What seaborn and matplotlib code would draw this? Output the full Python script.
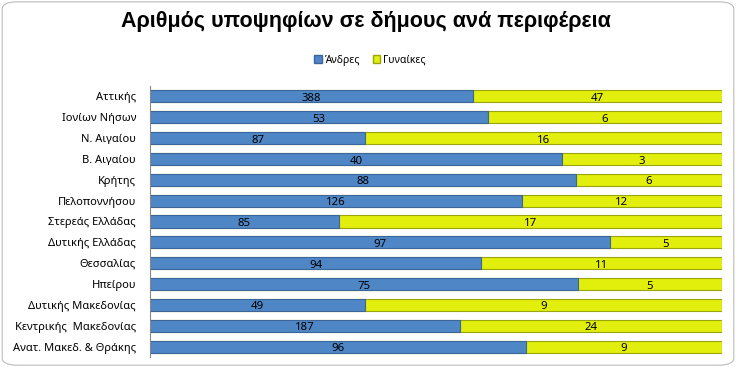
import matplotlib
matplotlib.use("Agg")
import matplotlib.pyplot as plt
import seaborn as sns
import pandas as pd
from matplotlib.patches import Patch, FancyBboxPatch

# regions, top to bottom
regions = ["Αττικής", "Ιονίων Νήσων", "Ν. Αιγαίου", "Β. Αιγαίου", "Κρήτης",
           "Πελοποννήσου", "Στερεάς Ελλάδας", "Δυτικής Ελλάδας", "Θεσσαλίας",
           "Ηπείρου", "Δυτικής Μακεδονίας", "Κεντρικής  Μακεδονίας",
           "Ανατ. Μακεδ. & Θράκης"]
# numbers printed on the bars
men_labels = [388, 53, 87, 40, 88, 126, 85, 97, 94, 75, 49, 187, 96]
women_labels = [47, 6, 16, 3, 6, 12, 17, 5, 11, 5, 9, 24, 9]
# bar length of the blue segment (% of full bar)
men_share = [56.5, 59.1, 37.6, 72.0, 74.4, 65.0, 33.0, 80.4, 57.9, 74.8, 37.6, 54.2, 65.7]

df = pd.DataFrame({"region": regions, "men": men_share})
df["total"] = 100.0

sns.set_style("white")
plt.rcParams['font.family'] = ['Noto Sans', 'DejaVu Sans']
plt.rcParams['text.color'] = 'black'
plt.rcParams['ytick.color'] = 'black'

fig = plt.figure(figsize=(7.36, 3.67), dpi=100)
ax = fig.add_axes([150 / 736, 1 - 357 / 367, 572 / 736, 271 / 367])

blue = "#4F86C6"
yellow = "#E2EE0C"

sns.barplot(data=df, x="total", y="region", color=yellow, width=0.58,
            edgecolor="#9AA50A", linewidth=0.8, saturation=1, ax=ax)
sns.barplot(data=df, x="men", y="region", color=blue, width=0.58,
            edgecolor="#3A6699", linewidth=0.8, saturation=1, ax=ax)

for i, (m, w) in enumerate(zip(men_labels, women_labels)):
    s = men_share[i]
    ax.text(s / 2, i + 0.1, str(m), ha="center", va="center", fontsize=8.2, color="black")
    ax.text(s + (100 - s) / 2, i + 0.1, str(w), ha="center", va="center", fontsize=8.2, color="black")

ax.set_xlim(0, 100)
ax.set_ylim(12.5, -0.5)
ax.set_xlabel("")
ax.set_ylabel("")
ax.set_xticks([])
ax.tick_params(axis="y", length=0, labelsize=8, pad=10)
for side in ["top", "right", "bottom"]:
    ax.spines[side].set_visible(False)
ax.spines["left"].set_color("#888888")
ax.spines["left"].set_linewidth(0.8)

fig.text(366 / 736, 1 - 22 / 367, "Αριθμός υποψηφίων σε δήμους ανά περιφέρεια",
         ha="center", va="center", fontsize=15.5, fontweight="bold", color="black",
         family=["Liberation Sans", "DejaVu Sans"])

handles = [Patch(facecolor=blue, edgecolor="#3A6699", label="Άνδρες"),
           Patch(facecolor=yellow, edgecolor="#9AA50A", label="Γυναίκες")]
fig.legend(handles=handles, loc="center", bbox_to_anchor=(370 / 736, 1 - 60 / 367),
           ncol=2, frameon=False, fontsize=7.5, handlelength=0.7, handleheight=0.7,
           handletextpad=0.3, columnspacing=1.2)

border = FancyBboxPatch((0.003, 0.005), 0.994, 0.99, boxstyle="round,pad=0,rounding_size=0.02",
                        transform=fig.transFigure, facecolor="none", edgecolor="#BBBBBB",
                        linewidth=0.8)
fig.patches.append(border)

fig.savefig("out.png", dpi=100)
